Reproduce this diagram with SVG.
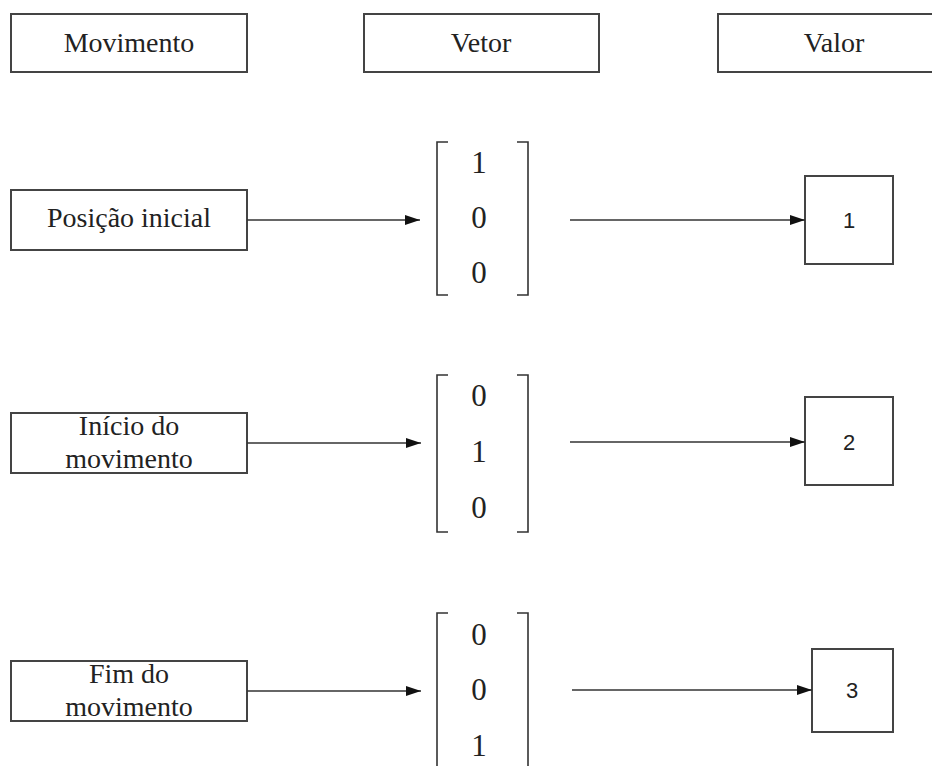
<svg xmlns="http://www.w3.org/2000/svg" width="932" height="766" viewBox="0 0 932 766">
<style>
.box{fill:#fff;stroke:#444;stroke-width:2}
.t{font-family:"Liberation Serif","Times New Roman",serif;font-size:28px;fill:#222;text-anchor:middle}
.n{font-family:"Liberation Sans",Arial,sans-serif;font-size:22px;fill:#222;text-anchor:middle}
.d{font-family:"Liberation Serif","Times New Roman",serif;font-size:31px;fill:#222;text-anchor:middle}
.br{fill:none;stroke:#333;stroke-width:1.6}
.c{stroke:#333;stroke-width:1.6;fill:none;marker-end:url(#ah)}
</style>
<defs>
<marker id="ah" markerWidth="16" markerHeight="10" refX="15" refY="5" orient="auto" markerUnits="userSpaceOnUse">
<path d="M0,0 L15,5 L0,10 Z" fill="#111"/>
</marker>
</defs>
<rect width="932" height="766" fill="#fff"/>
<g id="h-movimento"><rect class="box" x="11" y="14" width="236" height="58"/><text class="t" x="129" y="52">Movimento</text></g>
<g id="h-vetor"><rect class="box" x="364" y="14" width="235" height="58"/><text class="t" x="481" y="52">Vetor</text></g>
<g id="h-valor"><rect class="box" x="718" y="14" width="230" height="58"/><text class="t" x="834" y="52">Valor</text></g>

<g id="m1"><rect class="box" x="11" y="190" width="236" height="60"/><text class="t" x="129" y="227">Posição inicial</text></g>
<g id="m2"><rect class="box" x="11" y="413" width="236" height="60"/><text class="t" x="129" y="435">Início do</text><text class="t" x="129" y="468">movimento</text></g>
<g id="m3"><rect class="box" x="11" y="661" width="236" height="60"/><text class="t" x="129" y="683">Fim do</text><text class="t" x="129" y="716">movimento</text></g>

<g id="v1"><path class="br" d="M448,142 H437 V295 H448 M517,142 H528 V295 H517"/><text class="d" x="479" y="173">1</text><text class="d" x="479" y="228">0</text><text class="d" x="479" y="283">0</text></g>
<g id="v2"><path class="br" d="M448,375 H437 V532 H448 M517,375 H528 V532 H517"/><text class="d" x="479" y="406">0</text><text class="d" x="479" y="462">1</text><text class="d" x="479" y="518">0</text></g>
<g id="v3"><path class="br" d="M448,613 H437 V770 M517,613 H528 V770"/><text class="d" x="479" y="645">0</text><text class="d" x="479" y="700">0</text><text class="d" x="479" y="756">1</text></g>

<g id="r1"><rect class="box" x="805" y="176" width="88" height="88"/><text class="n" x="849" y="228">1</text></g>
<g id="r2"><rect class="box" x="805" y="397" width="88" height="88"/><text class="n" x="849" y="450">2</text></g>
<g id="r3"><rect class="box" x="812" y="649" width="81" height="83"/><text class="n" x="852" y="698">3</text></g>

<g id="connectors">
<line class="c" x1="247" y1="220" x2="420" y2="220"/>
<line class="c" x1="570" y1="220" x2="805" y2="220"/>
<line class="c" x1="247" y1="443" x2="421" y2="443"/>
<line class="c" x1="570" y1="442" x2="805" y2="442"/>
<line class="c" x1="247" y1="691" x2="421" y2="691"/>
<line class="c" x1="572" y1="690" x2="812" y2="690"/>
</g>
</svg>
